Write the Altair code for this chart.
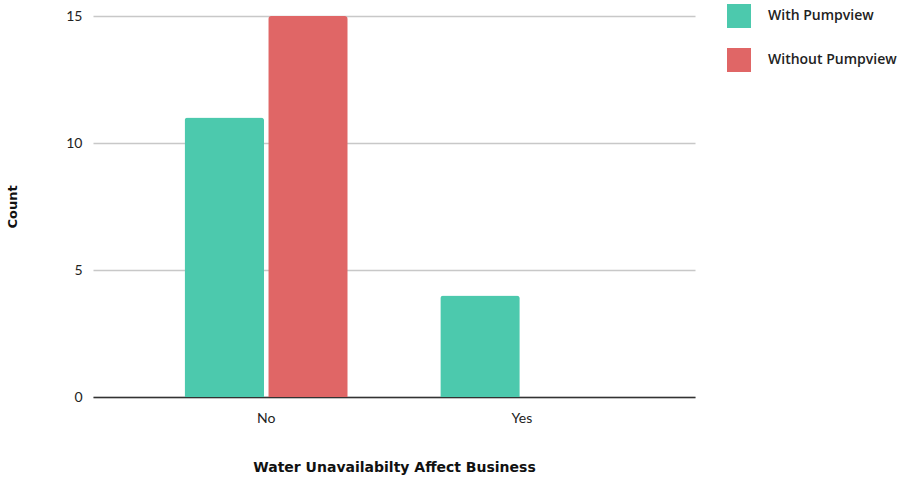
import altair as alt
import pandas as pd

categories = ["No", "No", "Yes", "Yes"]
series = ["With Pumpview", "Without Pumpview", "With Pumpview", "Without Pumpview"]
counts = [11, 15, 4, 0]

series_order = ["With Pumpview", "Without Pumpview"]
colors = ["#4cc9ad", "#e06666"]

df = pd.DataFrame({"cat": categories, "series": series, "count": counts})

FONT = "Lato"
TITLE_FONT = "DejaVu Sans"

chart = alt.Chart(df).mark_bar(cornerRadiusTopLeft=3, cornerRadiusTopRight=3).encode(
    x=alt.X("cat:N", title="Water Unavailabilty Affect Business",
            scale=alt.Scale(paddingInner=0.362, paddingOuter=0.358),
            axis=alt.Axis(labelAngle=0, ticks=False, labelPadding=14, titlePadding=35,
                          domainColor="#333333", domainWidth=1.5,
                          labelFontSize=14, labelColor="#222222",
                          titleFont=TITLE_FONT,
                          titleFontSize=14, titleFontWeight="bold", titleColor="#111111")),
    xOffset=alt.XOffset("series:N", sort=series_order,
                        scale=alt.Scale(paddingInner=0.05, paddingOuter=0)),
    y=alt.Y("count:Q", title="Count",
            scale=alt.Scale(domain=[0, 15], nice=False),
            axis=alt.Axis(values=[0, 5, 10, 15], ticks=False, domain=False, labelPadding=11,
                          gridColor="#c8c8c8", gridWidth=1.3,
                          labelFontSize=14, labelColor="#222222",
                          titleFont=TITLE_FONT,
                          titleFontSize=13, titleFontWeight="bold", titleColor="#111111",
                          titlePadding=46)),
    color=alt.Color("series:N", sort=series_order,
                    scale=alt.Scale(domain=series_order, range=colors),
                    legend=alt.Legend(title=None, orient="none", legendX=634, legendY=-12,
                                      symbolType="square", symbolSize=576,
                                      symbolStrokeWidth=0,
                                      rowPadding=20, labelOffset=17,
                                      labelFont="Open Sans",
                                      labelFontSize=14, labelColor="#222222",
                                      labelFontWeight=600)),
).properties(
    width=602, height=381,
    autosize=alt.AutoSizeParams(type="none"),
    padding={"left": 93, "top": 16, "right": 212, "bottom": 82},
).configure(font=FONT).configure_view(stroke=None).configure_legend(symbolOpacity=1)

chart.save("out.html", embed_options={"renderer": "svg", "actions": False})
